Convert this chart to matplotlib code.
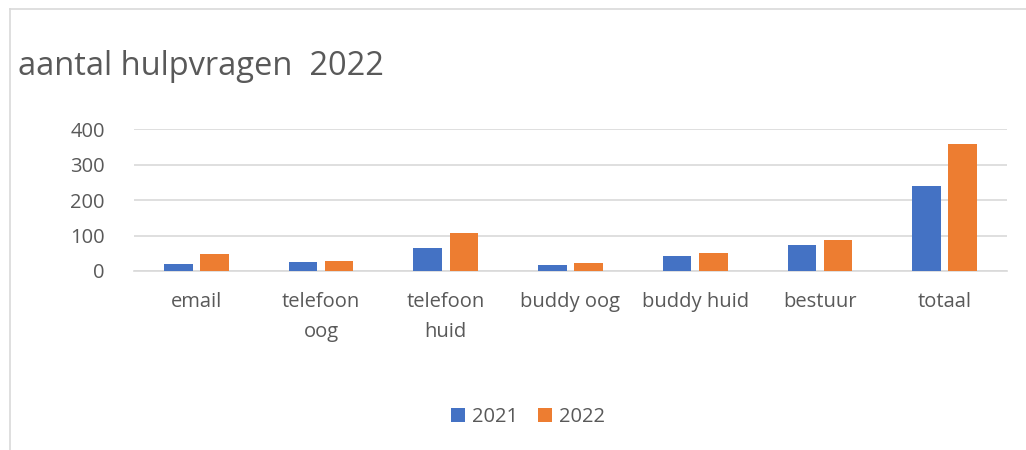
import matplotlib.pyplot as plt
import numpy as np
from matplotlib.lines import Line2D

# data
categories = ["email", "telefoon\noog", "telefoon\nhuid", "buddy oog", "buddy huid", "bestuur", "totaal"]
values_2021 = [20, 26, 65, 16, 41, 72, 240]
values_2022 = [47, 28, 108, 22, 51, 87, 359]
series_names = ["2021", "2022"]

BLUE = "#4472C4"
ORANGE = "#ED7D31"
GREY = "#595959"

plt.rcParams["font.family"] = ["Open Sans", "DejaVu Sans"]

W, H = 1026, 450
fig = plt.figure(figsize=(W / 100, H / 100), dpi=100)

# axes placement in pixels
left, right, top, bottom = 134, 1007, 129.3, 271
ax = fig.add_axes([left / W, 1 - bottom / H, (right - left) / W, (bottom - top) / H])

x = np.arange(len(categories))
w = 0.23
off = 0.145
ax.bar(x - off, values_2021, w, color=BLUE, label=series_names[0], zorder=3)
ax.bar(x + off, values_2022, w, color=ORANGE, label=series_names[1], zorder=3)

ax.set_xlim(-0.5, len(categories) - 0.5)
ax.set_ylim(0, 400)
ax.set_yticks([0, 100, 200, 300, 400])
ax.yaxis.grid(True, color="#d9d9d9", linewidth=1.2, zorder=0)
ax.set_axisbelow(True)
for s in ["top", "right", "left"]:
    ax.spines[s].set_visible(False)
ax.spines["bottom"].set_color("#d9d9d9")
ax.spines["bottom"].set_linewidth(1.2)
ax.tick_params(length=0, labelsize=14.5, labelcolor=GREY)
ax.tick_params(axis="y", pad=21)
ax.tick_params(axis="x", pad=15)
ax.set_xticks(x)
ax.set_xticklabels(categories, linespacing=1.65, va="top")

# title
fig.text(18 / W, 1 - 75 / H, "aantal hulpvragen  2022", fontsize=23.5, color=GREY,
         ha="left", va="baseline")

# chart border (top and left visible)
fig.add_artist(Line2D([10 / W, 10 / W], [0, 1 - 9 / H], transform=fig.transFigure,
                      color="#d9d9d9", linewidth=1.2))
fig.add_artist(Line2D([10 / W, 1], [1 - 9 / H, 1 - 9 / H], transform=fig.transFigure,
                      color="#d9d9d9", linewidth=1.2))

fig.legend(loc="center", bbox_to_anchor=(528 / W, 1 - 417 / H), ncol=2, frameon=False,
           fontsize=14.5, labelcolor=GREY, handlelength=0.7, handleheight=0.7,
           handletextpad=0.35, columnspacing=1.0)

fig.savefig("out.png", dpi=100, facecolor="white")
